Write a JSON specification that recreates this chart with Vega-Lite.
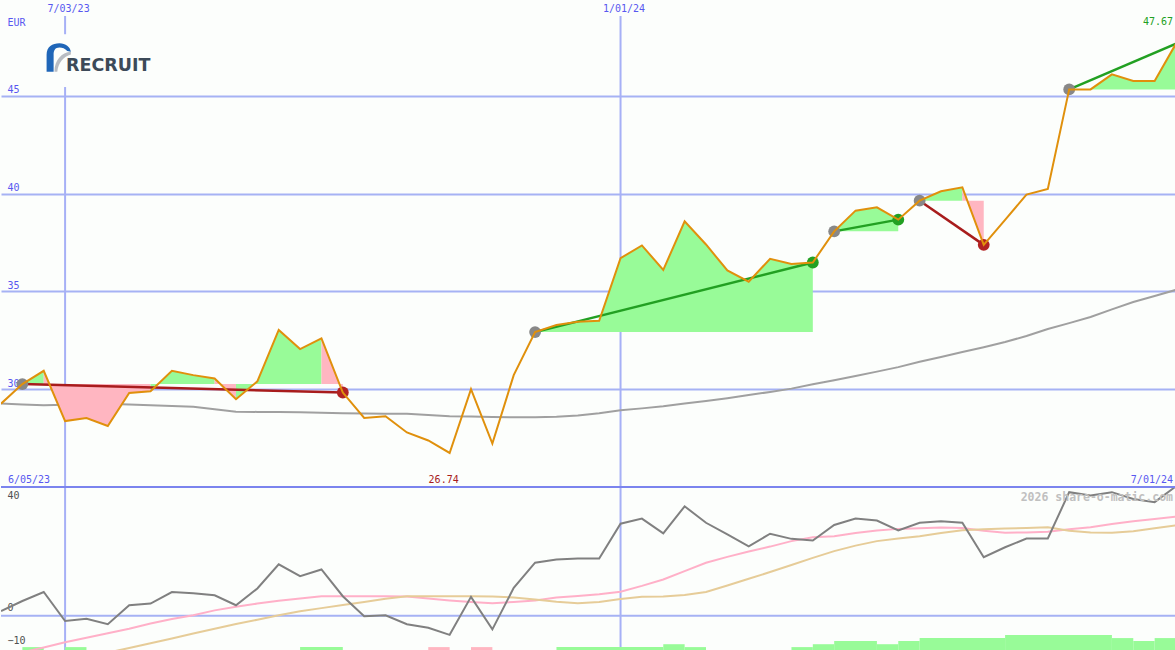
{
"$schema": "https://vega.github.io/schema/vega-lite/v6.json",
"background": "#fcfefc",
"padding": 0,
"spacing": 0,
"bounds": "flush",
"config": {"view": {"stroke": null}},
"resolve": {"scale": {"color": "independent"}},
"datasets": {
"weekly": [
{"d":"2023-06-12","p":29.26,"ma":29.27,"osc":1.5,"fast":null,"slow":null},
{"d":"2023-06-19","p":30.26,"ma":29.22,"osc":4.6,"fast":-11.3,"slow":null},
{"d":"2023-06-26","p":30.94,"ma":29.18,"osc":7.4,"fast":-9.8,"slow":null},
{"d":"2023-07-03","p":28.37,"ma":29.2,"osc":-1.6,"fast":-8.2,"slow":null},
{"d":"2023-07-10","p":28.53,"ma":29.24,"osc":-0.9,"fast":-6.8,"slow":null},
{"d":"2023-07-17","p":28.12,"ma":29.26,"osc":-2.6,"fast":-5.4,"slow":-11.4},
{"d":"2023-07-24","p":29.81,"ma":29.22,"osc":3.3,"fast":-4.0,"slow":-10.0},
{"d":"2023-07-31","p":29.9,"ma":29.18,"osc":3.8,"fast":-2.4,"slow":-8.5},
{"d":"2023-08-07","p":30.94,"ma":29.14,"osc":7.4,"fast":-1.0,"slow":-7.0},
{"d":"2023-08-14","p":30.72,"ma":29.1,"osc":7.0,"fast":0.2,"slow":-5.5},
{"d":"2023-08-21","p":30.55,"ma":28.98,"osc":6.4,"fast":1.7,"slow":-4.0},
{"d":"2023-08-28","p":29.49,"ma":28.85,"osc":3.3,"fast":2.8,"slow":-2.5},
{"d":"2023-09-04","p":30.4,"ma":28.84,"osc":8.5,"fast":3.8,"slow":-1.2},
{"d":"2023-09-11","p":33.03,"ma":28.84,"osc":16.0,"fast":4.7,"slow":0.2},
{"d":"2023-09-18","p":32.05,"ma":28.82,"osc":12.3,"fast":5.4,"slow":1.4},
{"d":"2023-09-25","p":32.6,"ma":28.79,"osc":14.4,"fast":6.1,"slow":2.4},
{"d":"2023-10-02","p":29.83,"ma":28.77,"osc":6.1,"fast":6.1,"slow":3.4},
{"d":"2023-10-09","p":28.53,"ma":28.76,"osc":-0.1,"fast":6.1,"slow":4.3},
{"d":"2023-10-16","p":28.62,"ma":28.75,"osc":0.2,"fast":6.1,"slow":5.3},
{"d":"2023-10-23","p":27.79,"ma":28.74,"osc":-2.6,"fast":6.0,"slow":6.1},
{"d":"2023-10-30","p":27.38,"ma":28.68,"osc":-3.7,"fast":5.4,"slow":6.1},
{"d":"2023-11-06","p":26.74,"ma":28.62,"osc":-5.9,"fast":4.8,"slow":6.1},
{"d":"2023-11-13","p":30.0,"ma":28.6,"osc":5.9,"fast":4.3,"slow":6.1},
{"d":"2023-11-20","p":27.22,"ma":28.58,"osc":-4.2,"fast":3.9,"slow":6.0},
{"d":"2023-11-27","p":30.72,"ma":28.56,"osc":8.7,"fast":4.3,"slow":5.7},
{"d":"2023-12-04","p":32.92,"ma":28.56,"osc":16.5,"fast":4.8,"slow":5.1},
{"d":"2023-12-11","p":33.28,"ma":28.59,"osc":17.5,"fast":5.7,"slow":4.4},
{"d":"2023-12-18","p":33.45,"ma":28.66,"osc":17.8,"fast":6.2,"slow":3.9},
{"d":"2023-12-25","p":33.5,"ma":28.77,"osc":17.8,"fast":6.7,"slow":4.3},
{"d":"2024-01-01","p":36.7,"ma":28.92,"osc":28.6,"fast":7.5,"slow":5.2},
{"d":"2024-01-08","p":37.35,"ma":29.02,"osc":30.2,"fast":9.3,"slow":5.9},
{"d":"2024-01-15","p":36.1,"ma":29.13,"osc":25.6,"fast":11.3,"slow":6.0},
{"d":"2024-01-22","p":38.58,"ma":29.27,"osc":34.0,"fast":13.9,"slow":6.5},
{"d":"2024-01-29","p":37.4,"ma":29.4,"osc":28.9,"fast":16.5,"slow":7.4},
{"d":"2024-02-05","p":36.07,"ma":29.54,"osc":25.3,"fast":18.3,"slow":9.4},
{"d":"2024-02-12","p":35.5,"ma":29.7,"osc":21.6,"fast":20.0,"slow":11.5},
{"d":"2024-02-19","p":36.67,"ma":29.86,"osc":25.5,"fast":21.5,"slow":13.6},
{"d":"2024-02-26","p":36.4,"ma":30.03,"osc":23.9,"fast":23.2,"slow":15.8},
{"d":"2024-03-04","p":36.48,"ma":30.25,"osc":23.4,"fast":24.4,"slow":18.0},
{"d":"2024-03-11","p":38.07,"ma":30.46,"osc":28.2,"fast":24.7,"slow":20.1},
{"d":"2024-03-18","p":39.13,"ma":30.68,"osc":30.2,"fast":25.7,"slow":21.8},
{"d":"2024-03-25","p":39.3,"ma":30.9,"osc":29.6,"fast":26.5,"slow":23.2},
{"d":"2024-04-01","p":38.67,"ma":31.13,"osc":26.5,"fast":27.0,"slow":24.0},
{"d":"2024-04-08","p":39.64,"ma":31.4,"osc":28.9,"fast":27.2,"slow":24.7},
{"d":"2024-04-15","p":40.12,"ma":31.65,"osc":29.4,"fast":27.4,"slow":25.7},
{"d":"2024-04-22","p":40.32,"ma":31.9,"osc":28.9,"fast":27.3,"slow":26.6},
{"d":"2024-04-29","p":37.38,"ma":32.15,"osc":18.2,"fast":26.4,"slow":26.9},
{"d":"2024-05-06","p":38.66,"ma":32.41,"osc":21.3,"fast":25.8,"slow":27.1},
{"d":"2024-05-13","p":39.95,"ma":32.72,"osc":24.0,"fast":25.9,"slow":27.3},
{"d":"2024-05-20","p":40.24,"ma":33.08,"osc":24.0,"fast":26.1,"slow":27.5},
{"d":"2024-05-27","p":45.33,"ma":33.38,"osc":38.4,"fast":26.9,"slow":26.4},
{"d":"2024-06-03","p":45.33,"ma":33.69,"osc":37.4,"fast":27.5,"slow":25.9},
{"d":"2024-06-10","p":46.1,"ma":34.08,"osc":38.4,"fast":28.5,"slow":25.8},
{"d":"2024-06-17","p":45.76,"ma":34.46,"osc":36.3,"fast":29.4,"slow":26.3},
{"d":"2024-06-24","p":45.76,"ma":34.77,"osc":35.3,"fast":30.1,"slow":27.2},
{"d":"2024-07-01","p":47.67,"ma":35.08,"osc":40.2,"fast":30.8,"slow":28.1}
],
"fills": [
{"g":1,"d":"2023-06-19","p":30.26,"b":30.26,"c":"up"},
{"g":1,"d":"2023-06-26","p":30.94,"b":30.26,"c":"up"},
{"g":2,"d":"2023-06-26","p":30.94,"b":30.26,"c":"down"},
{"g":2,"d":"2023-07-03","p":28.37,"b":30.26,"c":"down"},
{"g":2,"d":"2023-07-10","p":28.53,"b":30.26,"c":"down"},
{"g":2,"d":"2023-07-17","p":28.12,"b":30.26,"c":"down"},
{"g":2,"d":"2023-07-24","p":29.81,"b":30.26,"c":"down"},
{"g":2,"d":"2023-07-31","p":29.9,"b":30.26,"c":"down"},
{"g":3,"d":"2023-07-31","p":29.9,"b":30.26,"c":"up"},
{"g":3,"d":"2023-08-07","p":30.94,"b":30.26,"c":"up"},
{"g":3,"d":"2023-08-14","p":30.72,"b":30.26,"c":"up"},
{"g":3,"d":"2023-08-21","p":30.55,"b":30.26,"c":"up"},
{"g":4,"d":"2023-08-21","p":30.55,"b":30.26,"c":"down"},
{"g":4,"d":"2023-08-28","p":29.49,"b":30.26,"c":"down"},
{"g":5,"d":"2023-08-28","p":29.49,"b":30.26,"c":"up"},
{"g":5,"d":"2023-09-04","p":30.4,"b":30.26,"c":"up"},
{"g":5,"d":"2023-09-11","p":33.03,"b":30.26,"c":"up"},
{"g":5,"d":"2023-09-18","p":32.05,"b":30.26,"c":"up"},
{"g":5,"d":"2023-09-25","p":32.6,"b":30.26,"c":"up"},
{"g":6,"d":"2023-09-25","p":32.6,"b":30.26,"c":"down"},
{"g":6,"d":"2023-10-02","p":29.83,"b":30.26,"c":"down"},
{"g":7,"d":"2023-12-04","p":32.92,"b":32.92,"c":"up"},
{"g":7,"d":"2023-12-11","p":33.28,"b":32.92,"c":"up"},
{"g":7,"d":"2023-12-18","p":33.45,"b":32.92,"c":"up"},
{"g":7,"d":"2023-12-25","p":33.5,"b":32.92,"c":"up"},
{"g":7,"d":"2024-01-01","p":36.7,"b":32.92,"c":"up"},
{"g":7,"d":"2024-01-08","p":37.35,"b":32.92,"c":"up"},
{"g":7,"d":"2024-01-15","p":36.1,"b":32.92,"c":"up"},
{"g":7,"d":"2024-01-22","p":38.58,"b":32.92,"c":"up"},
{"g":7,"d":"2024-01-29","p":37.4,"b":32.92,"c":"up"},
{"g":7,"d":"2024-02-05","p":36.07,"b":32.92,"c":"up"},
{"g":7,"d":"2024-02-12","p":35.5,"b":32.92,"c":"up"},
{"g":7,"d":"2024-02-19","p":36.67,"b":32.92,"c":"up"},
{"g":7,"d":"2024-02-26","p":36.4,"b":32.92,"c":"up"},
{"g":7,"d":"2024-03-04","p":36.48,"b":32.92,"c":"up"},
{"g":8,"d":"2024-03-11","p":38.07,"b":38.07,"c":"up"},
{"g":8,"d":"2024-03-18","p":39.13,"b":38.07,"c":"up"},
{"g":8,"d":"2024-03-25","p":39.3,"b":38.07,"c":"up"},
{"g":8,"d":"2024-04-01","p":38.67,"b":38.07,"c":"up"},
{"g":9,"d":"2024-04-08","p":39.64,"b":39.64,"c":"up"},
{"g":9,"d":"2024-04-15","p":40.12,"b":39.64,"c":"up"},
{"g":9,"d":"2024-04-22","p":40.32,"b":39.64,"c":"up"},
{"g":10,"d":"2024-04-22","p":40.32,"b":39.64,"c":"down"},
{"g":10,"d":"2024-04-29","p":37.38,"b":39.64,"c":"down"},
{"g":11,"d":"2024-05-27","p":45.33,"b":45.33,"c":"up"},
{"g":11,"d":"2024-06-03","p":45.33,"b":45.33,"c":"up"},
{"g":11,"d":"2024-06-10","p":46.1,"b":45.33,"c":"up"},
{"g":11,"d":"2024-06-17","p":45.76,"b":45.33,"c":"up"},
{"g":11,"d":"2024-06-24","p":45.76,"b":45.33,"c":"up"},
{"g":11,"d":"2024-07-01","p":47.67,"b":45.33,"c":"up"}
],
"trends": [
{"s":1,"d":"2023-06-19","p":30.26,"dir":"down"},
{"s":1,"d":"2023-10-02","p":29.83,"dir":"down"},
{"s":2,"d":"2023-12-04","p":32.92,"dir":"up"},
{"s":2,"d":"2024-03-04","p":36.48,"dir":"up"},
{"s":3,"d":"2024-03-11","p":38.07,"dir":"up"},
{"s":3,"d":"2024-04-01","p":38.67,"dir":"up"},
{"s":4,"d":"2024-04-08","p":39.64,"dir":"down"},
{"s":4,"d":"2024-04-29","p":37.38,"dir":"down"},
{"s":5,"d":"2024-05-27","p":45.33,"dir":"up"},
{"s":5,"d":"2024-07-01","p":47.67,"dir":"up"}
],
"dots": [
{"d":"2023-06-19","p":30.26,"k":"start"},
{"d":"2023-10-02","p":29.83,"k":"down"},
{"d":"2023-12-04","p":32.92,"k":"start"},
{"d":"2024-03-04","p":36.48,"k":"up"},
{"d":"2024-03-11","p":38.07,"k":"start"},
{"d":"2024-04-01","p":38.67,"k":"up"},
{"d":"2024-04-08","p":39.64,"k":"start"},
{"d":"2024-04-29","p":37.38,"k":"down"},
{"d":"2024-05-27","p":45.33,"k":"start"}
],
"bars": [
{"s":"2023-06-19","e":"2023-06-26","v":-9.7,"c":"up"},
{"s":"2023-07-03","e":"2023-07-10","v":-9.7,"c":"up"},
{"s":"2023-09-18","e":"2023-10-02","v":-9.7,"c":"up"},
{"s":"2023-10-30","e":"2023-11-06","v":-9.7,"c":"down"},
{"s":"2023-11-13","e":"2023-11-20","v":-9.7,"c":"down"},
{"s":"2023-12-11","e":"2024-01-15","v":-9.7,"c":"up"},
{"s":"2024-01-15","e":"2024-01-22","v":-8.8,"c":"up"},
{"s":"2024-01-22","e":"2024-01-29","v":-9.7,"c":"up"},
{"s":"2024-02-26","e":"2024-03-04","v":-9.7,"c":"up"},
{"s":"2024-03-04","e":"2024-03-11","v":-8.8,"c":"up"},
{"s":"2024-03-11","e":"2024-03-25","v":-7.8,"c":"up"},
{"s":"2024-03-25","e":"2024-04-01","v":-8.8,"c":"up"},
{"s":"2024-04-01","e":"2024-04-08","v":-7.8,"c":"up"},
{"s":"2024-04-08","e":"2024-05-06","v":-6.9,"c":"up"},
{"s":"2024-05-06","e":"2024-06-10","v":-5.95,"c":"up"},
{"s":"2024-06-10","e":"2024-06-17","v":-6.9,"c":"up"},
{"s":"2024-06-17","e":"2024-06-24","v":-7.8,"c":"up"},
{"s":"2024-06-24","e":"2024-07-01","v":-6.9,"c":"up"}
],
"vlines": [{"d":"2023-07-03"},{"d":"2024-01-01"}]
},
"vconcat": [
{
"width": 1175,
"height": 487,
"resolve": {"scale": {"color": "independent"}, "axis": {"x": "independent", "y": "independent"}},
"layer": [
{"data": {"name": "vlines"},
 "mark": {"type": "rule", "color": "#a6b0f6", "strokeWidth": 2},
 "encoding": {
  "x": {"field": "d", "type": "temporal",
        "scale": {"type": "utc", "domain": [{"year":2023,"month":6,"date":12,"utc":true},{"year":2024,"month":7,"date":1,"utc":true}]},
        "axis": {"orient": "top", "values": [{"year":2023,"month":7,"date":3,"utc":true},{"year":2024,"month":1,"date":1,"utc":true}], "format": "%-m/%d/%y", "title": null, "grid": false, "domain": false, "ticks": false, "tickSize": 0, "labelPadding": -13, "labelOffset": 3, "labelColor": "#5858f0", "labelFont": "DejaVu Sans Mono", "labelFontSize": 10, "labelFlush": false, "labelOverlap": false}},
  "y": {"datum": 49.08, "type": "quantitative", "scale": {"domain": [25, 49.9], "nice": false, "zero": false}, "axis": null},
  "y2": {"datum": 25}
 }},
{"data": {"values": [{}]},
 "mark": {"type": "rect", "color": "#fcfefc"},
 "encoding": {
  "x": {"datum": {"year":2023,"month":7,"date":1,"utc":true}, "type": "temporal", "scale": {"type": "utc", "domain": [{"year":2023,"month":6,"date":12,"utc":true},{"year":2024,"month":7,"date":1,"utc":true}]}, "axis": null},
  "x2": {"datum": {"year":2023,"month":7,"date":5,"utc":true}},
  "y": {"datum": 48.15, "type": "quantitative", "scale": {"domain": [25, 49.9], "nice": false, "zero": false}, "axis": null},
  "y2": {"datum": 45.45}
 }},
{"data": {"name": "weekly"},
 "mark": {"type": "line", "color": "#a0a0a0", "strokeWidth": 2, "clip": true},
 "encoding": {
  "x": {"field": "d", "type": "temporal", "scale": {"type": "utc", "domain": [{"year":2023,"month":6,"date":12,"utc":true},{"year":2024,"month":7,"date":1,"utc":true}]}, "axis": null},
  "y": {"field": "ma", "type": "quantitative", "scale": {"domain": [25, 49.9], "nice": false, "zero": false},
        "axis": {"orient": "left", "values": [30,35,40,45], "title": "EUR", "titleAngle": 0, "titleAlign": "left", "titleBaseline": "alphabetic", "titleX": 6, "titleY": 25, "titleColor": "#5858f0", "titleFont": "DejaVu Sans Mono", "titleFontSize": 10, "titleFontWeight": "normal", "grid": true, "gridColor": "#a6b2f4", "gridWidth": 2, "domain": false, "ticks": false, "tickSize": 0, "labelAlign": "left", "labelBaseline": "bottom", "labelPadding": -6, "labelOffset": -1, "labelColor": "#5858f0", "labelFont": "DejaVu Sans Mono", "labelFontSize": 10, "labelFlush": false}}
 }},
{"data": {"name": "fills"},
 "mark": {"type": "area", "clip": true, "opacity": 1},
 "encoding": {
  "x": {"field": "d", "type": "temporal", "scale": {"type": "utc", "domain": [{"year":2023,"month":6,"date":12,"utc":true},{"year":2024,"month":7,"date":1,"utc":true}]}, "axis": null},
  "y": {"field": "p", "type": "quantitative", "stack": null, "scale": {"domain": [25, 49.9], "nice": false, "zero": false}, "axis": null},
  "y2": {"field": "b"},
  "detail": {"field": "g", "type": "nominal"},
  "color": {"field": "c", "type": "nominal", "scale": {"domain": ["up","down"], "range": ["#98fb98","#ffb6c1"]}, "legend": null}
 }},
{"data": {"name": "trends"},
 "mark": {"type": "line", "strokeWidth": 2.5, "clip": true},
 "encoding": {
  "x": {"field": "d", "type": "temporal", "scale": {"type": "utc", "domain": [{"year":2023,"month":6,"date":12,"utc":true},{"year":2024,"month":7,"date":1,"utc":true}]}, "axis": null},
  "y": {"field": "p", "type": "quantitative", "scale": {"domain": [25, 49.9], "nice": false, "zero": false}, "axis": null},
  "detail": {"field": "s", "type": "nominal"},
  "color": {"field": "dir", "type": "nominal", "scale": {"domain": ["up","down"], "range": ["#22a022","#a81c1c"]}, "legend": null}
 }},
{"data": {"name": "dots"},
 "mark": {"type": "point", "filled": true, "size": 140, "opacity": 1},
 "encoding": {
  "x": {"field": "d", "type": "temporal", "scale": {"type": "utc", "domain": [{"year":2023,"month":6,"date":12,"utc":true},{"year":2024,"month":7,"date":1,"utc":true}]}, "axis": null},
  "y": {"field": "p", "type": "quantitative", "scale": {"domain": [25, 49.9], "nice": false, "zero": false}, "axis": null},
  "color": {"field": "k", "type": "nominal", "scale": {"domain": ["start","up","down"], "range": ["#888888","#22a022","#b22222"]}, "legend": null}
 }},
{"data": {"name": "weekly"},
 "mark": {"type": "line", "color": "#e0900c", "strokeWidth": 2, "clip": true},
 "encoding": {
  "x": {"field": "d", "type": "temporal", "scale": {"type": "utc", "domain": [{"year":2023,"month":6,"date":12,"utc":true},{"year":2024,"month":7,"date":1,"utc":true}]}, "axis": null},
  "y": {"field": "p", "type": "quantitative", "scale": {"domain": [25, 49.9], "nice": false, "zero": false}, "axis": null}
 }},
{"data": {"values": [{}]},
 "mark": {"type": "point", "filled": true, "opacity": 1, "color": "#b8bcc2", "size": 806,
          "shape": "M -0.3 1 C -0.3 0.2 0.2 -0.35 0.855 -0.4 L 0.855 -0.22 C 0.35 -0.1 -0.05 0.4 -0.1 1 Z"},
 "encoding": {
  "x": {"datum": {"year":2023,"month":6,"date":30,"hours":22,"utc":true}, "type": "temporal", "scale": {"type": "utc", "domain": [{"year":2023,"month":6,"date":12,"utc":true},{"year":2024,"month":7,"date":1,"utc":true}]}, "axis": null},
  "y": {"datum": 46.96, "type": "quantitative", "scale": {"domain": [25, 49.9], "nice": false, "zero": false}, "axis": null}
 }},
{"data": {"values": [{}]},
 "mark": {"type": "point", "filled": true, "opacity": 1, "color": "#1f66b8", "size": 806,
          "shape": "M -0.855 1 L -0.855 -0.2 C -0.855 -0.75 -0.45 -1 0.05 -1 C 0.5 -1 0.8 -0.75 0.855 -0.4 L 0.6 -0.45 C 0.45 -0.62 0.25 -0.7 0.05 -0.7 C -0.25 -0.7 -0.36 -0.5 -0.36 -0.2 L -0.36 1 Z"},
 "encoding": {
  "x": {"datum": {"year":2023,"month":6,"date":30,"hours":22,"utc":true}, "type": "temporal", "scale": {"type": "utc", "domain": [{"year":2023,"month":6,"date":12,"utc":true},{"year":2024,"month":7,"date":1,"utc":true}]}, "axis": null},
  "y": {"datum": 46.96, "type": "quantitative", "scale": {"domain": [25, 49.9], "nice": false, "zero": false}, "axis": null}
 }},
{"data": {"values": [{}]},
 "mark": {"type": "text", "text": "RECRUIT", "color": "#3c4a58", "font": "DejaVu Sans", "fontSize": 17.5, "fontWeight": "bold", "align": "left", "baseline": "alphabetic", "dx": 1},
 "encoding": {
  "x": {"datum": {"year":2023,"month":7,"date":3,"utc":true}, "type": "temporal", "scale": {"type": "utc", "domain": [{"year":2023,"month":6,"date":12,"utc":true},{"year":2024,"month":7,"date":1,"utc":true}]}, "axis": null},
  "y": {"datum": 46.27, "type": "quantitative", "scale": {"domain": [25, 49.9], "nice": false, "zero": false}, "axis": null}
 }},
{"data": {"values": [{}]},
 "mark": {"type": "text", "text": "47.67", "color": "#22a022", "font": "DejaVu Sans Mono", "fontSize": 10, "align": "right", "baseline": "alphabetic", "dx": -3},
 "encoding": {
  "x": {"datum": {"year":2024,"month":7,"date":1,"utc":true}, "type": "temporal", "scale": {"type": "utc", "domain": [{"year":2023,"month":6,"date":12,"utc":true},{"year":2024,"month":7,"date":1,"utc":true}]}, "axis": null},
  "y": {"datum": 48.62, "type": "quantitative", "scale": {"domain": [25, 49.9], "nice": false, "zero": false}, "axis": null}
 }},
{"data": {"values": [{}]},
 "mark": {"type": "text", "text": "26.74", "color": "#a81c1c", "font": "DejaVu Sans Mono", "fontSize": 10, "align": "center", "baseline": "alphabetic", "dx": -6},
 "encoding": {
  "x": {"datum": {"year":2023,"month":11,"date":6,"utc":true}, "type": "temporal", "scale": {"type": "utc", "domain": [{"year":2023,"month":6,"date":12,"utc":true},{"year":2024,"month":7,"date":1,"utc":true}]}, "axis": null},
  "y": {"datum": 25.22, "type": "quantitative", "scale": {"domain": [25, 49.9], "nice": false, "zero": false}, "axis": null}
 }},
{"data": {"values": [{}]},
 "mark": {"type": "text", "text": "6/05/23", "color": "#5858f0", "font": "DejaVu Sans Mono", "fontSize": 10, "align": "left", "baseline": "alphabetic", "dx": 7},
 "encoding": {
  "x": {"datum": {"year":2023,"month":6,"date":12,"utc":true}, "type": "temporal", "scale": {"type": "utc", "domain": [{"year":2023,"month":6,"date":12,"utc":true},{"year":2024,"month":7,"date":1,"utc":true}]}, "axis": null},
  "y": {"datum": 25.22, "type": "quantitative", "scale": {"domain": [25, 49.9], "nice": false, "zero": false}, "axis": null}
 }},
{"data": {"values": [{}]},
 "mark": {"type": "text", "text": "7/01/24", "color": "#5858f0", "font": "DejaVu Sans Mono", "fontSize": 10, "align": "right", "baseline": "alphabetic", "dx": -3},
 "encoding": {
  "x": {"datum": {"year":2024,"month":7,"date":1,"utc":true}, "type": "temporal", "scale": {"type": "utc", "domain": [{"year":2023,"month":6,"date":12,"utc":true},{"year":2024,"month":7,"date":1,"utc":true}]}, "axis": null},
  "y": {"datum": 25.22, "type": "quantitative", "scale": {"domain": [25, 49.9], "nice": false, "zero": false}, "axis": null}
 }}
]
},
{
"width": 1175,
"height": 163,
"resolve": {"scale": {"color": "independent"}, "axis": {"x": "independent", "y": "independent"}},
"layer": [
{"data": {"name": "vlines"},
 "mark": {"type": "rule", "color": "#a6b0f6", "strokeWidth": 2},
 "encoding": {
  "x": {"field": "d", "type": "temporal", "scale": {"type": "utc", "domain": [{"year":2023,"month":6,"date":12,"utc":true},{"year":2024,"month":7,"date":1,"utc":true}]}, "axis": null}
 }},
{"data": {"values": [{}]},
 "mark": {"type": "rule", "color": "#a6b2f4", "strokeWidth": 2},
 "encoding": {
  "y": {"datum": 0, "type": "quantitative", "scale": {"domain": [-10.6, 40], "nice": false, "zero": false}, "axis": null}
 }},
{"data": {"name": "bars"},
 "mark": {"type": "rect", "clip": true},
 "encoding": {
  "x": {"field": "s", "type": "temporal", "scale": {"type": "utc", "domain": [{"year":2023,"month":6,"date":12,"utc":true},{"year":2024,"month":7,"date":1,"utc":true}]}, "axis": null},
  "x2": {"field": "e"},
  "y": {"field": "v", "type": "quantitative", "scale": {"domain": [-10.6, 40], "nice": false, "zero": false}, "axis": null},
  "y2": {"datum": -10.6},
  "color": {"field": "c", "type": "nominal", "scale": {"domain": ["up","down"], "range": ["#98fb98","#ffb6c1"]}, "legend": null}
 }},
{"data": {"name": "weekly"},
 "mark": {"type": "line", "color": "#ffb0c8", "strokeWidth": 2, "clip": true},
 "encoding": {
  "x": {"field": "d", "type": "temporal", "scale": {"type": "utc", "domain": [{"year":2023,"month":6,"date":12,"utc":true},{"year":2024,"month":7,"date":1,"utc":true}]}, "axis": null},
  "y": {"field": "fast", "type": "quantitative", "scale": {"domain": [-10.6, 40], "nice": false, "zero": false},
        "axis": {"orient": "left", "values": [-10, 0, 40], "title": null, "grid": false, "domain": false, "ticks": false, "tickSize": 0, "labelAlign": "left", "labelBaseline": "bottom", "labelPadding": -6, "labelOffset": {"condition": {"test": "datum.value == 40", "value": 13}, "value": -3}, "labelColor": "#505050", "labelFont": "DejaVu Sans Mono", "labelFontSize": 10, "labelFlush": false}}
 }},
{"data": {"name": "weekly"},
 "mark": {"type": "line", "color": "#e6cc98", "strokeWidth": 2, "clip": true},
 "encoding": {
  "x": {"field": "d", "type": "temporal", "scale": {"type": "utc", "domain": [{"year":2023,"month":6,"date":12,"utc":true},{"year":2024,"month":7,"date":1,"utc":true}]}, "axis": null},
  "y": {"field": "slow", "type": "quantitative", "scale": {"domain": [-10.6, 40], "nice": false, "zero": false}, "axis": null}
 }},
{"data": {"name": "weekly"},
 "mark": {"type": "line", "color": "#808080", "strokeWidth": 2, "clip": true},
 "encoding": {
  "x": {"field": "d", "type": "temporal", "scale": {"type": "utc", "domain": [{"year":2023,"month":6,"date":12,"utc":true},{"year":2024,"month":7,"date":1,"utc":true}]}, "axis": null},
  "y": {"field": "osc", "type": "quantitative", "scale": {"domain": [-10.6, 40], "nice": false, "zero": false}, "axis": null}
 }},
{"data": {"values": [{}]},
 "mark": {"type": "rule", "color": "#7b84ee", "strokeWidth": 2},
 "encoding": {
  "y": {"datum": 40, "type": "quantitative", "scale": {"domain": [-10.6, 40], "nice": false, "zero": false}, "axis": null}
 }},
{"data": {"values": [{}]},
 "mark": {"type": "text", "text": "2026 share-o-matic.com", "color": "#c0c0c0", "font": "DejaVu Sans Mono", "fontSize": 11.5, "fontWeight": "bold", "align": "right", "baseline": "alphabetic", "dx": -3},
 "encoding": {
  "x": {"datum": {"year":2024,"month":7,"date":1,"utc":true}, "type": "temporal", "scale": {"type": "utc", "domain": [{"year":2023,"month":6,"date":12,"utc":true},{"year":2024,"month":7,"date":1,"utc":true}]}, "axis": null},
  "y": {"datum": 35.75, "type": "quantitative", "scale": {"domain": [-10.6, 40], "nice": false, "zero": false}, "axis": null}
 }}
]
}
]
}
